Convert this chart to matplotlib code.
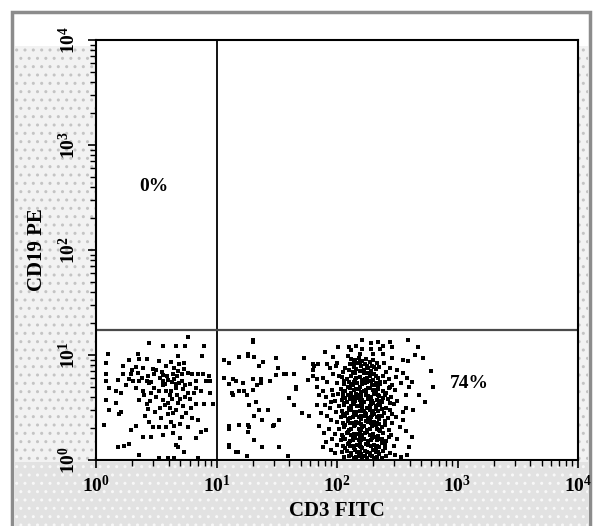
import numpy as np
import matplotlib
matplotlib.use('Agg')
import matplotlib.pyplot as plt
from matplotlib.patches import Rectangle
from matplotlib.ticker import LogLocator, FuncFormatter, NullFormatter

plt.rcParams['font.family'] = ['Liberation Serif', 'DejaVu Serif']
plt.rcParams['font.weight'] = 'bold'
plt.rcParams['mathtext.fontset'] = 'custom'
plt.rcParams['mathtext.rm'] = 'Liberation Serif:bold'
plt.rcParams['mathtext.bf'] = 'Liberation Serif:bold'
plt.rcParams['mathtext.it'] = 'Liberation Serif:bold:italic'

# events as (log10 CD3, log10 CD19)
left_pts = [
    (0.76, 1.17), (0.44, 1.11), (0.56, 1.09), (0.66, 1.09), (0.74, 1.09), (0.90, 1.09),
    (0.10, 1.01), (0.35, 1.01), (0.68, 0.99), (0.88, 0.99), (0.27, 0.95), (0.36, 0.96),
    (0.42, 0.96), (0.52, 0.94), (0.62, 0.93), (0.69, 0.91), (0.73, 0.92), (0.08, 0.92),
    (0.22, 0.90), (0.33, 0.89), (0.39, 0.88), (0.47, 0.87), (0.58, 0.90), (0.65, 0.88),
    (0.68, 0.85), (0.73, 0.87), (0.80, 0.82), (0.85, 0.82), (0.89, 0.82), (0.94, 0.80),
    (0.08, 0.82), (0.22, 0.82), (0.29, 0.82), (0.35, 0.83), (0.43, 0.80), (0.48, 0.82),
    (0.56, 0.81), (0.64, 0.82), (0.71, 0.82), (0.76, 0.83), (0.08, 0.75), (0.18, 0.76),
    (0.27, 0.77), (0.31, 0.75), (0.36, 0.75), (0.42, 0.75), (0.46, 0.74), (0.56, 0.75),
    (0.60, 0.76), (0.65, 0.77), (0.71, 0.75), (0.83, 0.75), (0.91, 0.75), (0.95, 0.75),
    (0.11, 0.69), (0.17, 0.66), (0.21, 0.64), (0.33, 0.69), (0.39, 0.66), (0.44, 0.73),
    (0.48, 0.69), (0.56, 0.71), (0.58, 0.66), (0.62, 0.66), (0.66, 0.69), (0.72, 0.68),
    (0.76, 0.64), (0.83, 0.69), (0.87, 0.66), (0.95, 0.64), (0.08, 0.57), (0.17, 0.54),
    (0.21, 0.46), (0.11, 0.48), (0.19, 0.44), (0.36, 0.57), (0.42, 0.53), (0.43, 0.49),
    (0.56, 0.57), (0.60, 0.54), (0.61, 0.50), (0.64, 0.45), (0.66, 0.48), (0.71, 0.41),
    (0.75, 0.45), (0.68, 0.54), (0.72, 0.51), (0.79, 0.50), (0.83, 0.53), (0.90, 0.53),
    (0.97, 0.53), (0.80, 0.40), (0.85, 0.38), (0.07, 0.33), (0.29, 0.29), (0.33, 0.32),
    (0.44, 0.36), (0.47, 0.31), (0.52, 0.31), (0.58, 0.31), (0.62, 0.36), (0.65, 0.32),
    (0.56, 0.24), (0.64, 0.26), (0.70, 0.21), (0.83, 0.21), (0.87, 0.27), (0.91, 0.29),
    (0.39, 0.22), (0.46, 0.22), (0.27, 0.15), (0.23, 0.13), (0.18, 0.12), (0.66, 0.14),
    (0.68, 0.12), (0.73, 0.08), (0.36, 0.05), (0.52, 0.02), (0.60, 0.02), (0.65, 0.02),
    (0.85, 0.02), (0.50, 0.86), (0.53, 0.78), (0.55, 0.84), (0.57, 0.72), (0.59, 0.80),
    (0.61, 0.62), (0.63, 0.74), (0.63, 0.58), (0.67, 0.62), (0.67, 0.80), (0.69, 0.73),
    (0.70, 0.58), (0.74, 0.60), (0.74, 0.71), (0.52, 0.66), (0.50, 0.60), (0.46, 0.64),
    (0.45, 0.56), (0.40, 0.62), (0.38, 0.78), (0.30, 0.86), (0.25, 0.71), (0.78, 0.72),
    (0.78, 0.58), (0.81, 0.64), (0.60, 0.44), (0.54, 0.40), (0.49, 0.46), (0.70, 0.34),
    (0.76, 0.31), (0.41, 0.42), (0.57, 0.52), (0.53, 0.50), (0.66, 0.72),
]

mid_pts = [
    (1.30, 1.14), (1.30, 1.12), (1.19, 0.98), (1.26, 1.01), (1.26, 0.99), (1.31, 0.98),
    (1.06, 0.95), (1.10, 0.92), (1.35, 0.90), (1.39, 0.93), (1.49, 0.97), (1.51, 0.88),
    (1.73, 0.97), (1.81, 0.90), (1.49, 0.81), (1.56, 0.82), (1.58, 0.82), (1.64, 0.82),
    (1.06, 0.78), (1.14, 0.77), (1.16, 0.75), (1.22, 0.73), (1.30, 0.77), (1.37, 0.77),
    (1.37, 0.73), (1.44, 0.75), (1.66, 0.70), (1.66, 0.68), (1.83, 0.77), (1.10, 0.72),
    (1.13, 0.64), (1.19, 0.66), (1.23, 0.66), (1.30, 0.67), (1.34, 0.71), (1.14, 0.62),
    (1.25, 0.62), (1.33, 0.55), (1.27, 0.52), (1.35, 0.48), (1.43, 0.48), (1.60, 0.59),
    (1.64, 0.52), (1.83, 0.52), (1.71, 0.45), (1.77, 0.42), (1.31, 0.42), (1.38, 0.38),
    (1.52, 0.38), (1.10, 0.32), (1.10, 0.30), (1.19, 0.33), (1.26, 0.33), (1.26, 0.27),
    (1.27, 0.31), (1.47, 0.32), (1.48, 0.33), (1.31, 0.19), (1.38, 0.12), (1.10, 0.14),
    (1.10, 0.12), (1.16, 0.08), (1.18, 0.08), (1.25, 0.04), (1.52, 0.12), (1.59, 0.04),
]

main_pts = [
    # upper edge
    (2.21, 1.14), (2.44, 1.12), (2.59, 1.14), (2.10, 1.08), (2.16, 1.09), (2.12, 1.05),
    (2.28, 1.11), (2.34, 1.12), (2.38, 1.09), (2.46, 1.08), (2.01, 1.08), (2.67, 1.08),
    (2.21, 1.06), (2.28, 1.06), (2.36, 1.06), (1.90, 1.03), (1.97, 0.98), (2.09, 0.99),
    (2.19, 1.01), (2.30, 1.01), (2.38, 1.01), (2.46, 0.97), (2.71, 0.97), (1.80, 0.91),
    (1.92, 0.91), (2.00, 0.92), (2.59, 0.94),
    # dense blob
    (2.12, 0.96), (2.15, 0.95), (2.18, 0.97), (2.21, 0.94), (2.24, 0.96), (2.27, 0.93),
    (2.30, 0.95), (2.33, 0.92), (2.11, 0.91), (2.14, 0.89), (2.17, 0.92), (2.20, 0.90),
    (2.23, 0.91), (2.26, 0.88), (2.29, 0.90), (2.32, 0.87), (2.35, 0.89), (2.10, 0.86),
    (2.13, 0.84), (2.16, 0.87), (2.19, 0.85), (2.22, 0.86), (2.25, 0.83), (2.28, 0.85),
    (2.31, 0.82), (2.07, 0.88), (2.05, 0.84), (2.39, 0.92), (2.44, 0.88), (2.50, 0.86),
    (2.55, 0.83), (2.41, 0.84), (1.84, 0.91), (1.94, 0.88), (1.99, 0.90), (1.88, 0.78),
    (1.92, 0.74), (1.97, 0.82), (2.02, 0.80),
    # body
    (2.04, 0.79), (2.08, 0.77), (2.12, 0.80), (2.15, 0.76), (2.19, 0.79), (2.23, 0.77),
    (2.27, 0.80), (2.30, 0.76), (2.34, 0.78), (2.38, 0.80), (2.43, 0.77), (2.49, 0.79),
    (2.00, 0.73), (2.06, 0.72), (2.10, 0.74), (2.13, 0.71), (2.17, 0.73), (2.21, 0.72),
    (2.25, 0.74), (2.29, 0.71), (2.32, 0.73), (2.36, 0.72), (2.40, 0.74), (2.46, 0.71),
    (2.53, 0.73), (1.96, 0.67), (2.03, 0.68), (2.07, 0.66), (2.11, 0.69), (2.14, 0.67),
    (2.18, 0.68), (2.22, 0.66), (2.26, 0.69), (2.30, 0.67), (2.34, 0.68), (2.38, 0.66),
    (2.43, 0.69), (2.48, 0.67), (2.01, 0.63), (2.05, 0.61), (2.09, 0.62), (2.13, 0.60),
    (2.16, 0.63), (2.20, 0.61), (2.24, 0.62), (2.28, 0.60), (2.31, 0.63), (2.35, 0.61),
    (2.40, 0.62), (2.45, 0.60), (2.57, 0.62), (1.98, 0.56), (2.04, 0.57), (2.08, 0.55),
    (2.11, 0.58), (2.15, 0.56), (2.19, 0.57), (2.22, 0.55), (2.26, 0.58), (2.29, 0.56),
    (2.33, 0.57), (2.37, 0.55), (2.42, 0.58), (2.50, 0.56), (2.02, 0.51), (2.06, 0.52),
    (2.10, 0.50), (2.14, 0.53), (2.17, 0.51), (2.21, 0.52), (2.25, 0.50), (2.28, 0.53),
    (2.32, 0.51), (2.36, 0.52), (2.41, 0.50), (2.47, 0.53), (1.99, 0.46), (2.04, 0.47),
    (2.08, 0.45), (2.12, 0.48), (2.16, 0.46), (2.19, 0.47), (2.23, 0.45), (2.27, 0.48),
    (2.30, 0.46), (2.34, 0.47), (2.39, 0.45), (2.44, 0.48), (2.55, 0.46), (2.03, 0.41),
    (2.07, 0.42), (2.11, 0.40), (2.14, 0.43), (2.18, 0.41), (2.22, 0.42), (2.26, 0.40),
    (2.29, 0.43), (2.33, 0.41), (2.37, 0.42), (2.42, 0.40), (2.49, 0.41), (2.00, 0.36),
    (2.05, 0.35), (2.09, 0.37), (2.13, 0.35), (2.16, 0.36), (2.20, 0.34), (2.24, 0.37),
    (2.28, 0.35), (2.31, 0.36), (2.35, 0.34), (2.40, 0.37), (2.46, 0.35), (2.02, 0.30),
    (2.06, 0.31), (2.10, 0.29), (2.14, 0.32), (2.18, 0.30), (2.21, 0.31), (2.25, 0.29),
    (2.29, 0.32), (2.33, 0.30), (2.37, 0.31), (2.43, 0.29), (2.52, 0.31), (1.98, 0.25),
    (2.04, 0.24), (2.08, 0.26), (2.12, 0.24), (2.16, 0.25), (2.19, 0.23), (2.23, 0.26),
    (2.27, 0.24), (2.30, 0.25), (2.34, 0.23), (2.38, 0.26), (2.45, 0.24), (2.03, 0.19),
    (2.07, 0.20), (2.11, 0.18), (2.15, 0.21), (2.18, 0.19), (2.22, 0.20), (2.26, 0.18),
    (2.29, 0.21), (2.33, 0.19), (2.37, 0.20), (2.41, 0.18), (2.50, 0.20), (2.00, 0.14),
    (2.05, 0.13), (2.09, 0.15), (2.13, 0.13), (2.17, 0.14), (2.20, 0.12), (2.24, 0.15),
    (2.28, 0.13), (2.31, 0.14), (2.35, 0.12), (2.40, 0.15), (2.47, 0.13), (2.04, 0.08),
    (2.08, 0.09), (2.12, 0.07), (2.15, 0.10), (2.19, 0.08), (2.23, 0.09), (2.27, 0.07),
    (2.30, 0.10), (2.34, 0.08), (2.38, 0.09), (2.44, 0.07), (2.06, 0.03), (2.10, 0.04),
    (2.14, 0.02), (2.18, 0.04), (2.21, 0.03), (2.25, 0.02), (2.29, 0.04), (2.33, 0.03),
    (2.37, 0.02), (2.41, 0.04), (2.53, 0.03),
    # in-between events
    (2.06, 0.75), (2.14, 0.74), (2.21, 0.76), (2.28, 0.75), (2.36, 0.74), (2.09, 0.70),
    (2.19, 0.70), (2.27, 0.69), (2.34, 0.70), (2.44, 0.70), (2.05, 0.65), (2.12, 0.64),
    (2.20, 0.65), (2.24, 0.64), (2.32, 0.65), (2.41, 0.64), (2.07, 0.59), (2.17, 0.59),
    (2.27, 0.59), (2.38, 0.59), (2.06, 0.54), (2.13, 0.54), (2.20, 0.54), (2.30, 0.54),
    (2.44, 0.54), (2.10, 0.48), (2.21, 0.49), (2.32, 0.49), (2.37, 0.49), (2.05, 0.44),
    (2.16, 0.43), (2.24, 0.44), (2.31, 0.44), (2.46, 0.44), (2.09, 0.39), (2.20, 0.39),
    (2.27, 0.38), (2.35, 0.39), (2.07, 0.33), (2.15, 0.33), (2.22, 0.32), (2.32, 0.33),
    (2.40, 0.33), (2.09, 0.27), (2.19, 0.27), (2.25, 0.27), (2.36, 0.28), (2.05, 0.22),
    (2.13, 0.22), (2.20, 0.22), (2.31, 0.22), (2.43, 0.22), (2.10, 0.16), (2.19, 0.17),
    (2.26, 0.16), (2.37, 0.16), (2.07, 0.11), (2.14, 0.11), (2.21, 0.11), (2.32, 0.11),
    (2.40, 0.11), (2.12, 0.05), (2.20, 0.06), (2.27, 0.05), (2.35, 0.06), (2.48, 0.05),
    # core
    (2.16, 0.78), (2.25, 0.78), (2.32, 0.80), (2.12, 0.72), (2.23, 0.73), (2.31, 0.71),
    (2.16, 0.68), (2.24, 0.67), (2.32, 0.67), (2.11, 0.62), (2.18, 0.62), (2.26, 0.61),
    (2.34, 0.62), (2.13, 0.56), (2.21, 0.57), (2.28, 0.57), (2.35, 0.56), (2.12, 0.51),
    (2.19, 0.51), (2.27, 0.51), (2.34, 0.52), (2.14, 0.46), (2.22, 0.47), (2.29, 0.47),
    (2.13, 0.41), (2.20, 0.42), (2.28, 0.41), (2.35, 0.42), (2.11, 0.35), (2.18, 0.35),
    (2.26, 0.36), (2.33, 0.35), (2.12, 0.30), (2.20, 0.29), (2.27, 0.30), (2.35, 0.29),
    (2.14, 0.25), (2.21, 0.24), (2.29, 0.24), (2.13, 0.19), (2.20, 0.19), (2.28, 0.19),
    (2.35, 0.20), (2.11, 0.13), (2.19, 0.13), (2.26, 0.14), (2.33, 0.13), (2.17, 0.08),
    (2.25, 0.08), (2.32, 0.08), (2.16, 0.03), (2.23, 0.04), (2.31, 0.02), (2.14, 0.92),
    (2.19, 0.93), (2.25, 0.90), (2.31, 0.89), (2.15, 0.83), (2.22, 0.83), (2.28, 0.82),
    # fringe
    (1.80, 0.86), (1.83, 0.70), (1.88, 0.66), (1.85, 0.62), (1.91, 0.60), (1.90, 0.52),
    (1.94, 0.50), (1.87, 0.45), (1.92, 0.42), (1.95, 0.38), (1.85, 0.32), (1.93, 0.30),
    (1.89, 0.26), (1.96, 0.20), (1.91, 0.17), (1.95, 0.10), (1.98, 0.07), (1.88, 0.12),
    (1.80, 0.80), (1.76, 0.76), (1.95, 0.55), (1.97, 0.62), (2.58, 0.78), (2.62, 0.74),
    (2.60, 0.70), (2.57, 0.50), (2.63, 0.48), (2.55, 0.38), (2.62, 0.22), (2.60, 0.12),
    (2.58, 0.05), (2.57, 0.28), (2.68, 0.62), (2.73, 0.55), (2.78, 0.85), (2.80, 0.70),
    (2.65, 1.00), (2.55, 0.95),
]

gate_x = 10.0
gate_y = 17.3
quad_labels = ['0%', '74%']
quad_pos = [(3.0, 400.0), (1260.0, 5.4)]

W, H = 601, 526
fig = plt.figure(figsize=(W / 100, H / 100), dpi=100)

def px_rect(x0, y0, x1, y1, **kw):
    # rectangle given in image pixels (origin top-left)
    r = Rectangle((x0 / W, 1 - y1 / H), (x1 - x0) / W, (y1 - y0) / H,
                  transform=fig.transFigure, **kw)
    fig.patches.append(r)

# dotted panel background and grey frame
px_rect(15, 46, 588, 526, facecolor='#f2f2f2', edgecolor='#c4c4c4', hatch='..', lw=0, zorder=0)
px_rect(15, 462, 588, 526, facecolor='#e2e2e2', edgecolor='#f8f8f8', hatch='..', lw=0, zorder=0)
px_rect(12, 12, 590, 530, facecolor='none', edgecolor='#8c8c8c', lw=2.5, zorder=1)

ax = fig.add_axes([96 / W, 1 - 460 / H, (578 - 96) / W, (460 - 40) / H])
ax.set_zorder(5)
ax.set_facecolor('white')

for pts in (left_pts, mid_pts, main_pts):
    arr = np.array(pts)
    ax.plot(10 ** arr[:, 0], 10 ** arr[:, 1], linestyle='none', marker='s',
            ms=2.7, mew=0, color='black')

ax.axvline(gate_x, color='black', lw=1.3)
ax.axhline(gate_y, color='#4a4a4a', lw=1.6)

for lab, (xq, yq) in zip(quad_labels, quad_pos):
    ax.text(xq, yq, lab, fontsize=14, fontweight='bold', ha='center', va='center')

ax.set_xscale('log')
ax.set_yscale('log')
ax.set_xlim(1, 1e4)
ax.set_ylim(1, 1e4)

fmt = FuncFormatter(lambda v, p: r'$\mathbf{10^{%d}}$' % round(np.log10(v)))
for axis in (ax.xaxis, ax.yaxis):
    axis.set_major_locator(LogLocator(base=10, subs=[1.0]))
    axis.set_minor_locator(LogLocator(base=10, subs=np.arange(2, 10)))
    axis.set_major_formatter(fmt)
    axis.set_minor_formatter(NullFormatter())

ax.tick_params(which='major', direction='out', length=6, width=1.2, labelsize=14)
ax.tick_params(which='minor', direction='out', length=4, width=1.0)
ax.tick_params(axis='x', pad=5)
ax.tick_params(axis='y', pad=6)
for lab in ax.get_yticklabels():
    lab.set_rotation(90)
    lab.set_va('center')

for s in ax.spines.values():
    s.set_linewidth(1.5)

ax.set_xlabel('CD3 FITC', fontsize=15, fontweight='bold', labelpad=3)
ax.set_ylabel('CD19 PE', fontsize=15, fontweight='bold', labelpad=8)

fig.savefig('out.png', dpi=100)
